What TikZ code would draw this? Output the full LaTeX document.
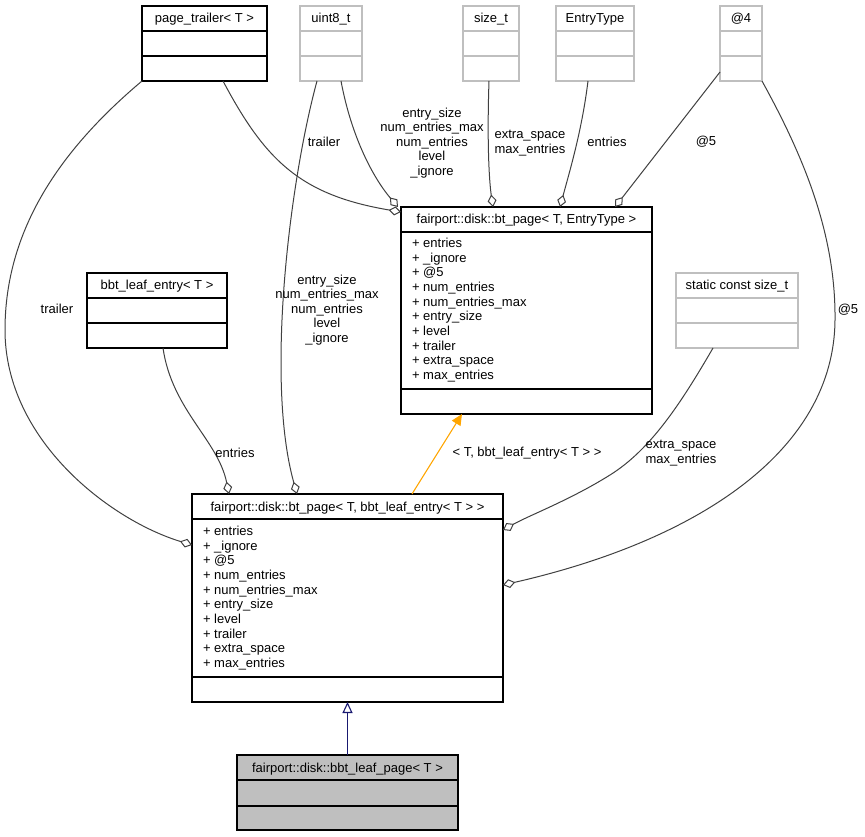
\documentclass[tikz,border=0pt]{standalone}
\usepackage{fontspec}
\setmainfont{Liberation Sans}
\usetikzlibrary{arrows.meta}
\definecolor{edgecol}{HTML}{404040}
\definecolor{graycol}{HTML}{BFBFBF}
\definecolor{orangecol}{HTML}{FFA500}
\definecolor{navycol}{HTML}{191970}
\definecolor{fillgray}{HTML}{BFBFBF}

% \umlbox{name}{style}{x1}{y1}{x2}{y2}{sep1}{sep2}{title}
\newcommand\umlbox[9]{%
  \node[#2, minimum width={(#5-#3)*1pt}, minimum height={(#6-#4)*1pt}] (#1) at (#3,#4) {};
  \draw[#2sep] (#3,#7) -- (#5,#7);
  \draw[#2sep] (#3,#8) -- (#5,#8);
  \node[txt, anchor=base] (#1-title) at ({(#3+#5)/2},{(#4+#7)/2+4.5}) {#9};
}
\newcommand\memberlist[3]{%
  \foreach \m [count=\i from 0] in {entries,\_ignore,@5,num\_entries,num\_entries\_max,entry\_size,level,trailer,extra\_space,max\_entries}{
    \node[txt, anchor=base west] (#1-m\i) at (#2,{#3+\i*14.65}) {+ \m};
  }%
}

\begin{document}
\begin{tikzpicture}[x=1pt,y=-1pt,
  font=\fontsize{13}{14.6}\selectfont,
  txt/.style={inner sep=0pt, outer sep=0pt, text=black},
  lbl/.style={inner sep=0pt, outer sep=0pt, align=center, text=black},
  cbox/.style={draw=black, line width=1.1pt, inner sep=0pt, outer sep=0pt, anchor=north west, fill=white},
  cboxsep/.style={draw=black, line width=1.1pt},
  gbox/.style={draw=graycol, line width=1.1pt, inner sep=0pt, outer sep=0pt, anchor=north west, fill=white},
  gboxsep/.style={draw=graycol, line width=1.1pt},
  fbox/.style={draw=black, line width=1.1pt, inner sep=0pt, outer sep=0pt, anchor=north west, fill=fillgray},
  fboxsep/.style={draw=black, line width=1.1pt},
  agg/.style={draw=edgecol, line width=1pt, -{Diamond[open,length=12.5pt,width=9pt,line width=1pt]}},
  tmpl/.style={draw=orangecol, line width=1.1pt, -{Triangle[length=11pt,width=10pt,fill=orangecol]}},
  inh/.style={draw=navycol, line width=1.1pt, -{Triangle[open,length=11pt,width=10pt,line width=1.1pt]}},
]
\useasboundingbox (0,0) rectangle (865,837);

% classes
\umlbox{pt}{cbox}{142}{6}{267}{81}{31}{56}{page\_trailer< T >}
\umlbox{u8}{gbox}{300}{6}{362}{81}{31}{56}{uint8\_t}
\umlbox{st}{gbox}{463}{6}{519}{81}{31}{56}{size\_t}
\umlbox{et}{gbox}{556}{6}{634}{81}{31}{56}{EntryType}
\umlbox{a4}{gbox}{720}{6}{762}{81}{31}{56}{@4}
\umlbox{bp}{cbox}{401}{207}{652}{414}{232}{389}{fairport::disk::bt\_page< T, EntryType >}
\memberlist{bp}{412}{247.5}
\umlbox{ble}{cbox}{87}{273}{227}{348}{298}{323}{bbt\_leaf\_entry< T >}
\umlbox{scs}{gbox}{676}{273}{798}{348}{298}{323}{static const size\_t}
\umlbox{lbp}{cbox}{192}{494}{503}{702}{519}{677}{fairport::disk::bt\_page< T, bbt\_leaf\_entry< T > >}
\memberlist{lbp}{203}{535.5}
\umlbox{blp}{fbox}{237}{755}{458}{830}{780}{806}{fairport::disk::bbt\_leaf\_page< T >}

% connectors into bt_page< T, EntryType >
\draw[agg] ([xshift=81pt]pt.south west) .. controls (265,160) and (300,195) .. ([yshift=-5pt]bp.north west);
\draw[agg] ([xshift=41pt]u8.south west) .. controls (352,140) and (375,180) .. ([xshift=-3pt]bp.north west);
\draw[agg] ([xshift=26pt]st.south west) .. controls (487,140) and (489,180) .. ([xshift=92pt]bp.north west);
\draw[agg] ([xshift=32pt]et.south west) .. controls (582,130) and (570,170) .. ([xshift=159pt]bp.north west);
\draw[agg] ([yshift=9pt]a4.south west) -- ([xshift=214pt]bp.north west);

% connectors into bt_page< T, bbt_leaf_entry< T > >
\draw[agg] (pt.south west) .. controls (60,150) and (5,230) .. (5,330) .. controls (5,440) and (110,520) .. ([yshift=-51pt]lbp.north west);
\draw[agg] ([xshift=17pt]u8.south west) .. controls (290,180) and (265,380) .. ([xshift=105pt]lbp.north west);
\draw[agg] ([xshift=76pt]ble.south west) .. controls (172,410) and (218,440) .. ([xshift=37pt]lbp.north west);
\draw[agg] ([xshift=37pt]scs.south west) .. controls (680,405) and (650,450) .. (610,475) .. controls (570,500) and (530,515) .. ([yshift=-36pt]lbp.north east);
\draw[agg] (a4.south east) .. controls (800,150) and (836,230) .. (835,320) .. controls (834,450) and (700,540) .. ([yshift=-91pt]lbp.north east);

% template instance and inheritance
\draw[tmpl] ([xshift=220pt]lbp.north west) -- ([xshift=61pt]bp.south west);
\draw[inh] (blp.north) -- (lbp.south);

% edge labels
\node[lbl] (l-trailer1) at (324,142) {trailer};
\node[lbl] (l-u8a) at (432,143) {entry\_size\\num\_entries\_max\\num\_entries\\level\\\_ignore};
\node[lbl] (l-sta) at (530,143) {extra\_space\\max\_entries};
\node[lbl] (l-eta) at (607,142) {entries};
\node[lbl] (l-a4a) at (706,142) {@5};
\node[lbl] (l-trailer2) at (57,309) {trailer};
\node[lbl] (l-u8b) at (327,310) {entry\_size\\num\_entries\_max\\num\_entries\\level\\\_ignore};
\node[lbl] (l-ble) at (235,453) {entries};
\node[lbl] (l-tmpl) at (527,453) {< T, bbt\_leaf\_entry< T > >};
\node[lbl] (l-scs) at (681,453) {extra\_space\\max\_entries};
\node[lbl] (l-a4b) at (848,310) {@5};
\end{tikzpicture}
\end{document}
